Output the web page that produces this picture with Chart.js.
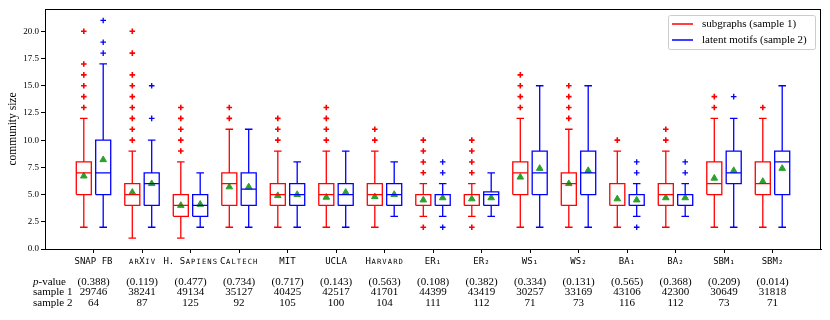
<!DOCTYPE html>
<html>
<head>
<meta charset="utf-8">
<script src="https://cdn.jsdelivr.net/npm/chart.js@4.4.1/dist/chart.umd.min.js"></script>
<style>
  body { margin: 0; background: #fff; }
  canvas { display: block; }
</style>
</head>
<body>
<canvas id="myChart" width="830" height="320"></canvas>
<script>
// categories and table rows
const categories = ['SNAP FB', 'arXiv', 'H. Sapiens', 'Caltech', 'MIT', 'UCLA', 'Harvard',
  'ER₁', 'ER₂', 'WS₁', 'WS₂', 'BA₁', 'BA₂', 'SBM₁', 'SBM₂'];
const pValues = ['0.388', '0.119', '0.477', '0.734', '0.717', '0.143', '0.563',
  '0.108', '0.382', '0.334', '0.131', '0.565', '0.368', '0.209', '0.014'];
const sample1Size = [29746, 38241, 49134, 35127, 40425, 42517, 41701, 44399, 43419, 30257, 33169, 43106, 42300, 30649, 31818];
const sample2Size = [64, 87, 125, 92, 105, 100, 104, 111, 112, 71, 73, 116, 112, 73, 71];

// subgraphs (sample 1)
const s1Low  = [2, 1, 1, 2, 2, 2, 2, 3, 3, 2, 2, 2, 2, 2, 2];
const s1Q1   = [5, 4, 3, 4, 4, 4, 4, 4, 4, 5, 4, 4, 4, 5, 5];
const s1Med  = [7, 5, 4, 6, 5, 5, 5, 4, 4, 7, 6, 4, 5, 6, 6];
const s1Q3   = [8, 6, 5, 7, 6, 6, 6, 5, 5, 8, 7, 6, 6, 8, 8];
const s1High = [12, 9, 8, 11, 9, 9, 9, 6, 6, 12, 11, 9, 9, 12, 12];
const s1Mean = [6.7, 5.2, 4.0, 5.7, 4.9, 4.75, 4.8, 4.5, 4.6, 6.6, 6.0, 4.6, 4.7, 6.5, 6.2];
const s1Out  = [[13, 14, 15, 16, 17, 20], [10, 11, 12, 13, 14, 15, 16, 18, 20], [9, 10, 11, 12, 13], [12, 13],
  [10, 11, 12], [10, 11, 12, 13], [10, 11], [2, 7, 8, 9, 10], [2, 7, 8, 9, 10], [13, 14, 15, 16],
  [12, 13, 14, 15], [10], [10, 11], [13, 14], [13]];

// latent motifs (sample 2)
const s2Low  = [2, 2, 2, 2, 2, 2, 3, 3, 3, 2, 2, 3, 3, 2, 2];
const s2Q1   = [5, 4, 3, 4, 4, 4, 4, 4, 4, 5, 5, 4, 4, 6, 5];
const s2Med  = [7, 6, 4, 5.5, 5, 5, 5, 4, 5, 7, 7, 4, 4, 7, 8];
const s2Q3   = [10, 7, 5, 7, 6, 6, 6, 5, 5.25, 9, 9, 5, 5, 9, 9];
const s2High = [17, 10, 7, 11, 8, 9, 8, 6, 7, 15, 15, 6, 6, 12, 15];
const s2Mean = [8.2, 6.0, 4.1, 5.7, 5.0, 5.2, 5.0, 4.7, 4.7, 7.4, 7.2, 4.5, 4.7, 7.2, 7.4];
const s2Out  = [[18, 19, 21], [12, 15], [], [], [], [], [], [2, 7, 8], [], [], [], [2, 7, 8], [7, 8], [14], []];

const yTicks = [0, 2.5, 5, 7.5, 10, 12.5, 15, 17.5, 20];

const RED = '#ff0000';
const BLUE = '#0000ff';
const GREEN = '#2ca02c';
const SHIFT = 0.2;   // offset of each box from the category
const HALF = 0.155;  // half box width (x units)
const CAP = 0.078;   // half cap width

// build one line dataset (with gaps) holding all boxes of a series
function boxLines(shift, low, q1, med, q3, high) {
  const pts = [];
  const gap = x => pts.push({ x: x, y: null });
  categories.forEach((c, i) => {
    const x = i + 1 + shift;
    pts.push({ x: x - HALF, y: q1[i] }, { x: x + HALF, y: q1[i] }, { x: x + HALF, y: q3[i] },
      { x: x - HALF, y: q3[i] }, { x: x - HALF, y: q1[i] });
    gap(x);
    pts.push({ x: x - HALF, y: med[i] }, { x: x + HALF, y: med[i] });
    gap(x);
    pts.push({ x: x, y: q1[i] }, { x: x, y: low[i] });
    gap(x);
    pts.push({ x: x, y: q3[i] }, { x: x, y: high[i] });
    gap(x);
    pts.push({ x: x - CAP, y: low[i] }, { x: x + CAP, y: low[i] });
    gap(x);
    pts.push({ x: x - CAP, y: high[i] }, { x: x + CAP, y: high[i] });
    gap(x);
  });
  return pts;
}

function outlierPoints(shift, outs) {
  return outs.flatMap((list, i) => list.map(v => ({ x: i + 1 + shift, y: v })));
}

function meanPoints(shift, means) {
  return means.map((v, i) => ({ x: i + 1 + shift, y: v }));
}

const serif = '"Liberation Serif", "DejaVu Serif", serif';
const mono = '"DejaVu Sans Mono", "Liberation Mono", monospace';

// small caps typewriter label, one character at a time
function drawSmallCaps(ctx, text, cx, baseline) {
  const big = 9, small = 7.2;
  ctx.font = big + 'px ' + mono;
  const adv = ctx.measureText('M').width;
  let x = cx - adv * text.length / 2;
  for (const ch of text) {
    const lower = ch !== ch.toUpperCase();
    ctx.font = (lower ? small : big) + 'px ' + mono;
    const g = ch.toUpperCase();
    const w = ctx.measureText(g).width;
    ctx.fillText(g, x + (adv - w) / 2, baseline);
    x += adv;
  }
}

// frame, x labels, table under the axis and legend
const extras = {
  id: 'extras',
  afterDraw(chart) {
    const ctx = chart.ctx;
    const a = chart.chartArea;
    const xs = chart.scales.x;
    ctx.save();
    ctx.strokeStyle = '#000';
    ctx.lineWidth = 1;
    ctx.strokeRect(a.left + 0.5, a.top + 0.5, a.right - a.left - 1, a.bottom - a.top);

    ctx.fillStyle = '#000';
    ctx.textAlign = 'left';
    ctx.textBaseline = 'alphabetic';
    categories.forEach((c, i) => drawSmallCaps(ctx, c, xs.getPixelForValue(i + 1), a.bottom + 14.5));

    // table
    ctx.textBaseline = 'middle';
    ctx.font = 'italic 11px ' + serif;
    ctx.fillText('p', 33, 282);
    const pw = ctx.measureText('p').width;
    ctx.font = '11px ' + serif;
    ctx.fillText('-value', 33 + pw, 282);
    ctx.fillText('sample 1', 33, 292.5);
    ctx.fillText('sample 2', 33, 303);
    ctx.textAlign = 'center';
    categories.forEach((c, i) => {
      const x = xs.getPixelForValue(i + 1);
      ctx.fillText('(' + pValues[i] + ')', x, 282);
      ctx.fillText(String(sample1Size[i]), x, 292.5);
      ctx.fillText(String(sample2Size[i]), x, 303);
    });

    // legend
    const lx = a.right - 153, ly = a.top + 6, lw = 147, lh = 34;
    ctx.fillStyle = 'rgba(255,255,255,0.8)';
    ctx.strokeStyle = '#cccccc';
    ctx.beginPath();
    ctx.roundRect(lx + 0.5, ly + 0.5, lw, lh, 2);
    ctx.fill();
    ctx.stroke();
    const items = [['subgraphs (sample 1)', RED], ['latent motifs (sample 2)', BLUE]];
    items.forEach((it, k) => {
      const y = ly + 9 + k * 16;
      ctx.strokeStyle = it[1];
      ctx.lineWidth = 1.5;
      ctx.beginPath();
      ctx.moveTo(lx + 4, y);
      ctx.lineTo(lx + 25, y);
      ctx.stroke();
      ctx.fillStyle = '#000';
      ctx.textAlign = 'left';
      ctx.font = '11px ' + serif;
      ctx.fillText(it[0], lx + 34, y);
    });
    ctx.restore();
  }
};

new Chart(document.getElementById('myChart'), {
  type: 'line',
  data: {
    datasets: [
      { data: boxLines(-SHIFT, s1Low, s1Q1, s1Med, s1Q3, s1High), borderColor: RED, borderWidth: 1.3,
        pointRadius: 0, spanGaps: false, tension: 0, fill: false },
      { data: boxLines(SHIFT, s2Low, s2Q1, s2Med, s2Q3, s2High), borderColor: BLUE, borderWidth: 1.3,
        pointRadius: 0, spanGaps: false, tension: 0, fill: false },
      { type: 'scatter', data: outlierPoints(-SHIFT, s1Out), pointStyle: 'cross', pointRadius: 2.8,
        borderColor: RED, borderWidth: 1.6 },
      { type: 'scatter', data: outlierPoints(SHIFT, s2Out), pointStyle: 'cross', pointRadius: 2.8,
        borderColor: BLUE, borderWidth: 1.3 },
      { type: 'scatter', data: meanPoints(-SHIFT, s1Mean), pointStyle: 'triangle', pointRadius: 3.8,
        backgroundColor: GREEN, borderColor: GREEN, borderWidth: 1 },
      { type: 'scatter', data: meanPoints(SHIFT, s2Mean), pointStyle: 'triangle', pointRadius: 3.8,
        backgroundColor: GREEN, borderColor: GREEN, borderWidth: 1 }
    ]
  },
  options: {
    responsive: false,
    animation: false,
    devicePixelRatio: 1,
    layout: { padding: { top: 9, right: 9, left: 0, bottom: 0 } },
    plugins: { legend: { display: false }, tooltip: { enabled: false } },
    scales: {
      x: {
        type: 'linear',
        min: 0,
        max: 16,
        afterFit: s => { s.height = 71; },
        afterBuildTicks: s => { s.ticks = categories.map((c, i) => ({ value: i + 1 })); },
        border: { display: true, color: '#000', width: 1 },
        grid: { drawOnChartArea: false, drawTicks: true, tickLength: 4, color: '#000' },
        ticks: { display: false }
      },
      y: {
        min: 0,
        max: 22.05,
        afterFit: s => { s.width = 45; },
        afterBuildTicks: s => { s.ticks = yTicks.map(v => ({ value: v })); },
        border: { display: true, color: '#000', width: 1 },
        grid: { drawOnChartArea: false, drawTicks: true, tickLength: 4, color: '#000' },
        title: {
          display: true,
          text: 'community size',
          color: '#000',
          font: { family: serif, size: 11.5 },
          padding: { top: 6, bottom: 0 }
        },
        ticks: {
          padding: 2,
          color: '#000',
          font: { family: serif, size: 9 },
          callback: v => v.toFixed(1)
        }
      }
    }
  },
  plugins: [extras]
});
</script>
</body>
</html>
